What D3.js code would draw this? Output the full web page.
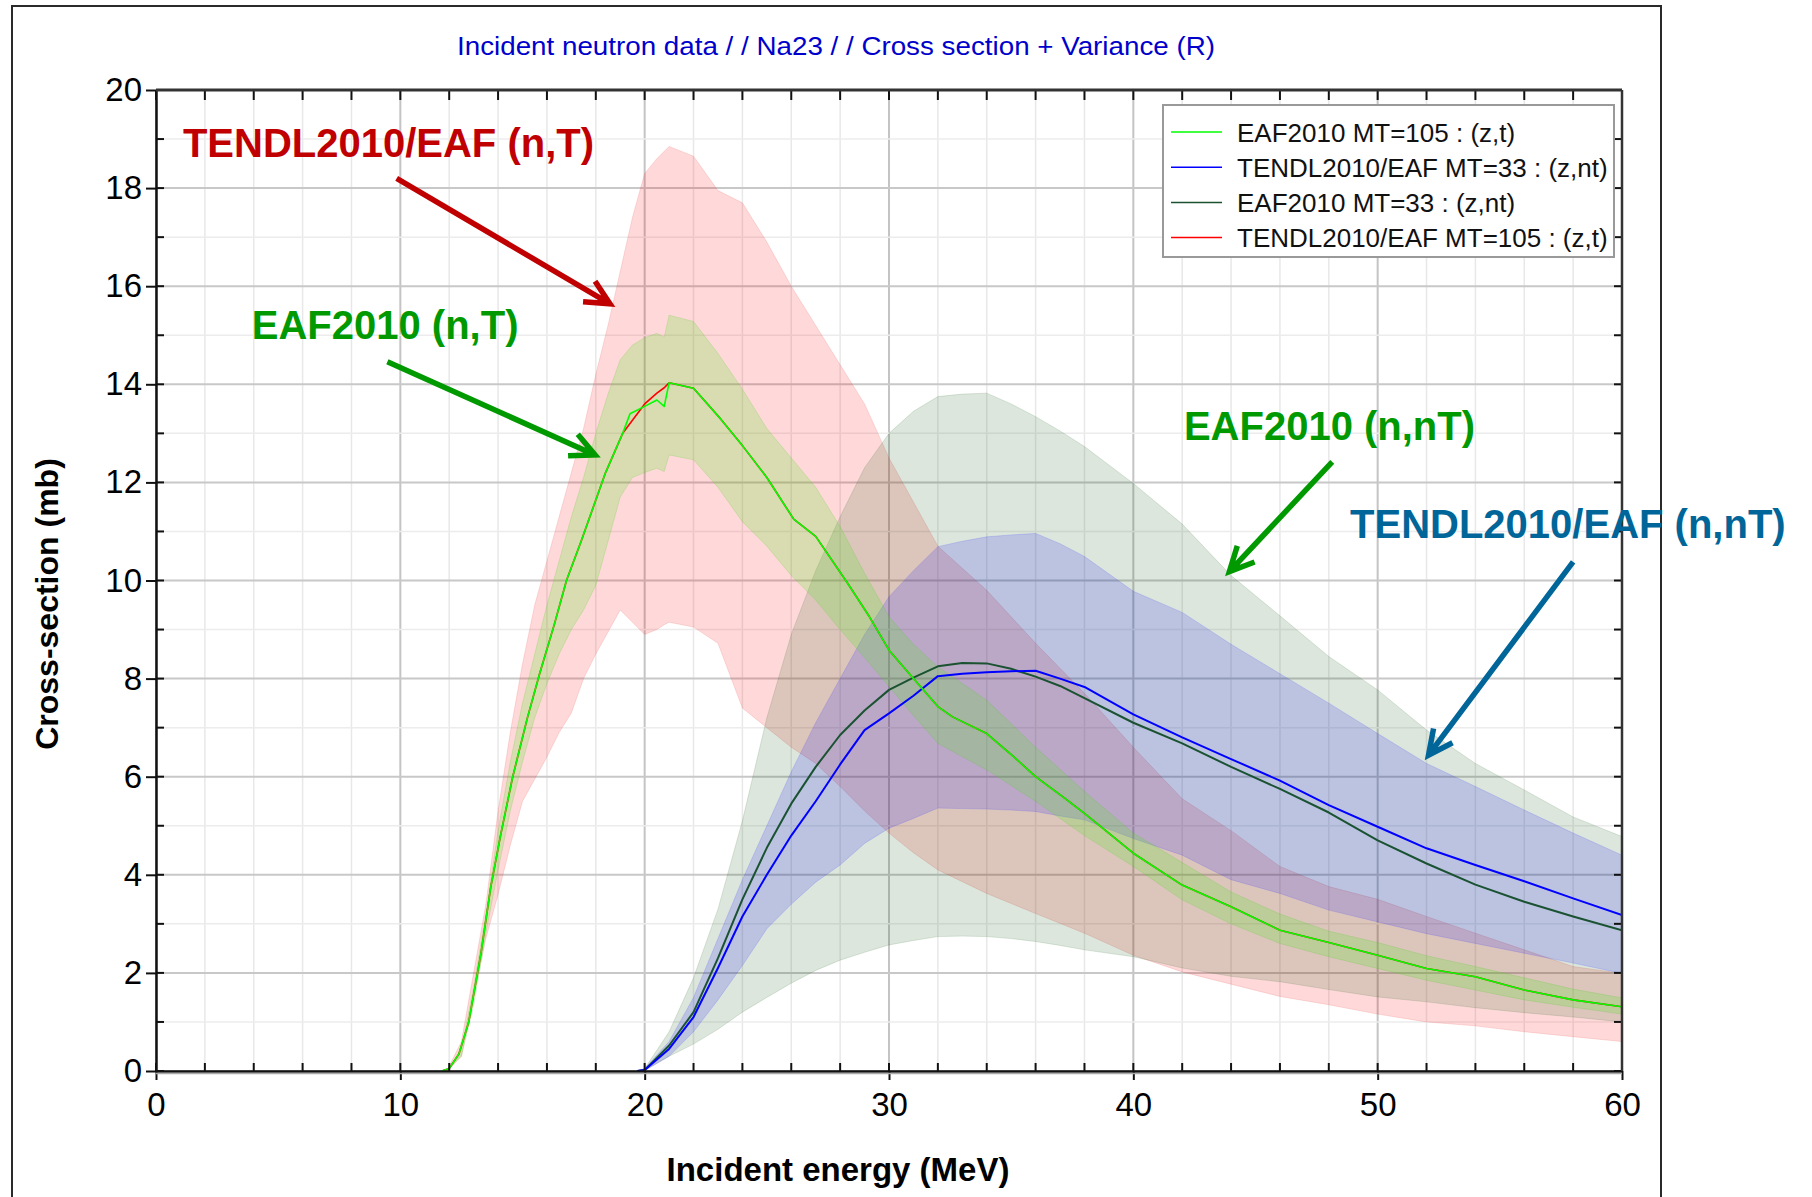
<!DOCTYPE html>
<html>
<head>
<meta charset="utf-8">
<script src="https://cdn.jsdelivr.net/npm/d3@7"></script>
<style>
  body { margin: 0; background: #fff; }
  svg text { font-family: "Liberation Sans", Arial, sans-serif; }
</style>
</head>
<body>
<div id="chart"></div>
<script>
// ---- values ----
var xTicks = [0, 10, 20, 30, 40, 50, 60];
var yTicks = [0, 2, 4, 6, 8, 10, 12, 14, 16, 18, 20];

// (n,T) MT=105 central curves
var eT = [11.7, 12.0, 12.4, 12.8, 13.3, 13.7, 14.1, 14.6, 15.2, 15.7, 16.3, 16.8, 17.4, 18.4, 19.1, 19.4, 20.0, 20.5, 20.8, 21.0,
          22.0, 23.1, 24.0, 25.0, 26.1, 27.0, 28.3, 29.2, 30.0, 31.0, 32.0, 32.6, 34.0, 35.1, 36.0, 37.2, 38.0, 40.0, 42.0, 44.0,
          46.0, 48.0, 50.0, 52.0, 54.0, 56.0, 58.0, 60.0];
var eaf105 = [0, 0.05, 0.35, 1.0, 2.4, 3.75, 4.8, 6.0, 7.2, 8.1, 9.1, 10.0, 10.8, 12.2, 13.0, 13.4, 13.55, 13.68, 13.55, 14.03,
              13.92, 13.3, 12.75, 12.1, 11.25, 10.9, 9.95, 9.26, 8.58, 8.0, 7.43, 7.22, 6.88, 6.41, 6.0, 5.56, 5.25, 4.44, 3.79, 3.35,
              2.87, 2.62, 2.36, 2.09, 1.92, 1.65, 1.45, 1.31];
var tendl105 = [0, 0.05, 0.35, 1.0, 2.4, 3.75, 4.8, 6.0, 7.2, 8.1, 9.1, 10.0, 10.8, 12.2, 13.0, 13.2, 13.6, 13.82, 13.93, 14.03,
                13.92, 13.3, 12.75, 12.1, 11.25, 10.9, 9.95, 9.26, 8.58, 8.0, 7.43, 7.22, 6.88, 6.41, 6.0, 5.56, 5.25, 4.44, 3.79, 3.35,
                2.87, 2.62, 2.36, 2.09, 1.92, 1.65, 1.45, 1.31];

// (n,T) variance bands
var eBandT = [11.9, 12.5, 13, 13.5, 14, 14.5, 15, 15.5, 16, 16.5, 17, 17.5, 18, 18.5, 19, 19.5, 20, 20.5, 20.8, 21,
              22, 23, 24, 25, 26, 27, 28, 29, 30, 31, 32, 34, 36, 38, 40, 42, 44, 46, 48, 50, 52, 54, 56, 58, 60];
var tendl105Hi = [0, 0.6, 2.0, 3.4, 5.3, 6.9, 8.3, 9.5, 10.4, 11.3, 12.2, 13.1, 14.2, 15.2, 16.3, 17.4, 18.3, 18.6, 18.75, 18.85,
                  18.65, 17.95, 17.7, 16.9, 16.0, 15.2, 14.4, 13.6, 12.5, 11.6, 10.7, 9.8, 8.72, 7.7, 6.6, 5.55, 4.9, 4.17, 3.76, 3.5,
                  3.15, 2.81, 2.47, 2.13, 1.99];
var tendl105Lo = [0, 0.3, 1.5, 2.7, 3.6, 4.6, 5.5, 5.95, 6.4, 6.9, 7.3, 8.0, 8.5, 8.95, 9.4, 9.15, 8.9, 9.0, 9.1, 9.15,
                  9.05, 8.72, 7.4, 7.0, 6.6, 6.27, 5.8, 5.3, 4.85, 4.45, 4.1, 3.62, 3.21, 2.81, 2.36, 2.02, 1.77, 1.52, 1.35, 1.16,
                  1.0, 0.92, 0.8, 0.7, 0.6];
var eaf105Hi = [0, 0.45, 1.7, 3.2, 4.9, 6.3, 7.5, 8.5, 9.5, 10.4, 11.3, 12.1, 13.0, 13.8, 14.5, 14.8, 14.95, 15.04, 14.96, 15.41,
                15.28, 14.63, 13.9, 13.1, 12.5, 11.9, 11.1, 10.15, 9.26, 8.7, 8.24, 7.56, 6.6, 5.7, 4.85, 4.25, 3.65, 3.2, 2.85, 2.62,
                2.35, 2.13, 1.9, 1.67, 1.49];
var eaf105Lo = [0, 0.3, 1.35, 2.8, 4.1, 5.3, 6.3, 7.2, 7.9, 8.5, 9.0, 9.4, 9.9, 10.8, 11.7, 12.1, 12.2, 12.29, 12.22, 12.56,
                12.46, 11.9, 11.2, 10.7, 10.1, 9.6, 9.0, 8.43, 7.84, 7.25, 6.68, 6.14, 5.5, 4.8, 4.17, 3.49, 3.0, 2.6, 2.33, 2.09,
                1.85, 1.65, 1.45, 1.3, 1.16];

// (n,nT) MT=33 curves and bands
var eNT = [19.7, 20, 21, 22, 23, 24, 25, 26, 27, 28, 29, 30, 31, 32, 33, 34, 35, 36, 37, 38,
           40, 42, 44, 46, 48, 50, 52, 54, 56, 58, 60];
var eaf33 = [0, 0.02, 0.52, 1.2, 2.3, 3.5, 4.55, 5.45, 6.2, 6.85, 7.35, 7.77, 8.02, 8.25, 8.32, 8.31, 8.2, 8.04, 7.85, 7.6,
             7.1, 6.68, 6.2, 5.75, 5.27, 4.7, 4.23, 3.8, 3.45, 3.15, 2.87];
var eaf33Hi = [0, 0.05, 0.8, 1.9, 3.3, 5.1, 7.2, 8.9, 10.2, 11.3, 12.3, 13.0, 13.45, 13.75, 13.8, 13.82, 13.6, 13.34, 13.05, 12.73,
               11.98, 11.15, 10.1, 9.28, 8.45, 7.77, 6.95, 6.27, 5.73, 5.18, 4.78];
var eaf33Lo = [0, 0.01, 0.3, 0.55, 0.85, 1.2, 1.5, 1.79, 2.05, 2.26, 2.42, 2.57, 2.66, 2.74, 2.75, 2.74, 2.7, 2.64, 2.56, 2.47,
               2.33, 2.1, 1.93, 1.82, 1.66, 1.51, 1.41, 1.29, 1.19, 1.1, 1.0];
var tendl33 = [0, 0.02, 0.45, 1.1, 2.1, 3.15, 4.0, 4.8, 5.5, 6.25, 6.95, 7.29, 7.65, 8.05, 8.1, 8.13, 8.15, 8.16, 8.0, 7.83,
               7.27, 6.8, 6.36, 5.92, 5.42, 4.98, 4.54, 4.2, 3.87, 3.52, 3.18];
var tendl33Hi = [0, 0.05, 0.6, 1.5, 2.7, 3.9, 5.0, 6.1, 7.1, 8.0, 8.9, 9.67, 10.2, 10.69, 10.8, 10.89, 10.93, 10.96, 10.75, 10.49,
                 9.78, 9.35, 8.7, 8.1, 7.5, 6.88, 6.27, 5.8, 5.32, 4.85, 4.4];
var tendl33Lo = [0, 0.01, 0.3, 0.8, 1.45, 2.15, 2.9, 3.4, 3.85, 4.2, 4.64, 4.95, 5.15, 5.36, 5.35, 5.34, 5.32, 5.29, 5.2, 5.12,
                 4.74, 4.4, 3.9, 3.62, 3.28, 3.04, 2.8, 2.6, 2.4, 2.2, 1.99];

var legendNames = ["EAF2010 MT=105 : (z,t)", "TENDL2010/EAF MT=33 : (z,nt)", "EAF2010 MT=33 : (z,nt)", "TENDL2010/EAF MT=105 : (z,t)"];
var legendColors = ["#00ff00", "#0000ff", "#1a5232", "#ff0000"];

// annotations, in data units (MeV, mb)
var noteTexts = ["TENDL2010/EAF (n,T)", "EAF2010 (n,T)", "EAF2010 (n,nT)", "TENDL2010/EAF (n,nT)"];
var noteColors = ["#c00000", "#009900", "#009900", "#006699"];
var noteAt = [[1.1, 18.63], [3.92, 14.92], [42.07, 12.86], [48.87, 10.86]];
var arrowFrom = [[9.85, 18.2], [9.47, 14.46], [48.14, 12.42], [58.0, 10.38]];
var arrowTo = [[18.58, 15.64], [17.97, 12.56], [43.93, 10.18], [52.08, 6.44]];

// ---- layout ----
var WIDTH = 1812, HEIGHT = 1197;
var PLOT = { left: 156, right: 1622, top: 90, bottom: 1071 };

var svg = d3.select("#chart").append("svg")
    .attr("width", WIDTH).attr("height", HEIGHT);

var xScale = d3.scaleLinear().domain([0, 60]).range([PLOT.left, PLOT.right]);
var yScale = d3.scaleLinear().domain([0, 20]).range([PLOT.bottom, PLOT.top]);

// outer frame of the screenshot
svg.append("rect").attr("x", 12).attr("y", 6).attr("width", 1649).attr("height", 1220)
    .attr("fill", "none").attr("stroke", "#2a2a2a").attr("stroke-width", 2);

svg.append("text")
    .attr("x", 836).attr("y", 55)
    .attr("text-anchor", "middle")
    .attr("textLength", 758).attr("lengthAdjust", "spacingAndGlyphs")
    .style("font-size", "25px").style("fill", "#0000cc")
    .text("Incident neutron data / / Na23 / / Cross section + Variance (R)");

// grid
var grid = svg.append("g").attr("class", "grid");
d3.range(0, 61, 2).forEach(function(e) {
  grid.append("line")
      .attr("x1", xScale(e)).attr("x2", xScale(e))
      .attr("y1", PLOT.top).attr("y2", PLOT.bottom)
      .attr("stroke", e % 10 == 0 ? "#c4c4c4" : "#e8e8e8")
      .attr("stroke-width", e % 10 == 0 ? 2 : 1.5);
});
d3.range(0, 21, 1).forEach(function(v) {
  grid.append("line")
      .attr("x1", PLOT.left).attr("x2", PLOT.right)
      .attr("y1", yScale(v)).attr("y2", yScale(v))
      .attr("stroke", v % 2 == 0 ? "#c8c8c8" : "#ececec")
      .attr("stroke-width", v % 2 == 0 ? 2 : 1.5);
});

svg.append("defs").append("clipPath").attr("id", "clip").append("rect")
    .attr("x", PLOT.left).attr("y", PLOT.top)
    .attr("width", PLOT.right - PLOT.left).attr("height", PLOT.bottom - PLOT.top);

var chartBody = svg.append("g").attr("clip-path", "url(#clip)");

function drawBand(xs, lo, hi, fill, edge) {
  var area = d3.area()
      .x(function(i) { return xScale(xs[i]); })
      .y0(function(i) { return yScale(lo[i]); })
      .y1(function(i) { return yScale(hi[i]); });
  chartBody.append("path")
      .attr("d", area(d3.range(xs.length)))
      .attr("fill", fill)
      .attr("stroke", edge).attr("stroke-width", 1);
}

function drawLine(xs, ys, color, width) {
  var lineGen = d3.line()
      .x(function(i) { return xScale(xs[i]); })
      .y(function(i) { return yScale(ys[i]); });
  chartBody.append("path")
      .attr("d", lineGen(d3.range(xs.length)))
      .attr("fill", "none").attr("stroke", color)
      .attr("stroke-width", width).attr("stroke-linejoin", "round");
}

// bands, last legend entry first
drawBand(eBandT, tendl105Lo, tendl105Hi, "rgba(255,0,0,0.15)", "rgba(230,80,80,0.18)");
drawBand(eNT, eaf33Lo, eaf33Hi, "rgba(40,100,40,0.16)", "rgba(40,100,40,0.15)");
drawBand(eNT, tendl33Lo, tendl33Hi, "rgba(0,0,255,0.15)", "rgba(60,60,255,0.18)");
drawBand(eBandT, eaf105Lo, eaf105Hi, "rgba(80,230,30,0.22)", "rgba(80,200,40,0.2)");

drawLine(eT, tendl105, "#ff0000", 1.6);
drawLine(eNT, eaf33, "#1a5232", 2);
drawLine(eNT, tendl33, "#0000ff", 2);
drawLine(eT, eaf105, "#00ff00", 1.6);

// axes
var axes = svg.append("g").attr("class", "axes");

var yAxis = d3.axisLeft(yScale).tickValues(yTicks).tickSizeInner(10).tickSizeOuter(0).tickPadding(4);
var gY = axes.append("g").attr("transform", "translate(" + PLOT.left + ",0)").call(yAxis);

var xAxis = d3.axisBottom(xScale).tickValues(xTicks).tickSizeInner(9).tickSizeOuter(0).tickPadding(13);
var gX = axes.append("g").attr("transform", "translate(0," + PLOT.bottom + ")").call(xAxis);

[gX, gY].forEach(function(g) {
  g.select(".domain").attr("stroke", "#111").attr("stroke-width", 2.5);
  g.selectAll(".tick line").attr("stroke", "#111").attr("stroke-width", 2);
  g.selectAll(".tick text").style("font-size", "33px").style("fill", "#000")
      .style("font-family", "'Liberation Sans', Arial, sans-serif");
});

// inner ticks on all four sides
d3.range(0, 61, 2).forEach(function(e) {
  axes.append("line").attr("x1", xScale(e)).attr("x2", xScale(e))
      .attr("y1", PLOT.bottom).attr("y2", PLOT.bottom - 8)
      .attr("stroke", "#111").attr("stroke-width", 2);
  axes.append("line").attr("x1", xScale(e)).attr("x2", xScale(e))
      .attr("y1", PLOT.top).attr("y2", PLOT.top + 10)
      .attr("stroke", "#111").attr("stroke-width", 2);
});
d3.range(0, 21, 1).forEach(function(v) {
  axes.append("line").attr("x1", PLOT.left).attr("x2", PLOT.left + 8)
      .attr("y1", yScale(v)).attr("y2", yScale(v))
      .attr("stroke", "#111").attr("stroke-width", 2);
  axes.append("line").attr("x1", PLOT.right).attr("x2", PLOT.right - 8)
      .attr("y1", yScale(v)).attr("y2", yScale(v))
      .attr("stroke", "#111").attr("stroke-width", 2);
});
axes.append("line").attr("x1", PLOT.left).attr("x2", PLOT.right)
    .attr("y1", PLOT.top).attr("y2", PLOT.top)
    .attr("stroke", "#333").attr("stroke-width", 3);
axes.append("line").attr("x1", PLOT.right).attr("x2", PLOT.right)
    .attr("y1", PLOT.top).attr("y2", PLOT.bottom)
    .attr("stroke", "#333").attr("stroke-width", 2.5);
axes.append("line").attr("x1", PLOT.left).attr("x2", PLOT.right)
    .attr("y1", PLOT.bottom + 2.5).attr("y2", PLOT.bottom + 2.5)
    .attr("stroke", "#aaa").attr("stroke-width", 1.5);

svg.append("text")
    .attr("x", 838).attr("y", 1181)
    .attr("text-anchor", "middle")
    .style("font-size", "33px").style("font-weight", "bold")
    .text("Incident energy (MeV)");

svg.append("text")
    .attr("transform", "translate(58,604) rotate(-90)")
    .attr("text-anchor", "middle")
    .style("font-size", "32px").style("font-weight", "bold")
    .text("Cross-section (mb)");

// legend box
var legend = svg.append("g").attr("class", "legend");
legend.append("rect")
    .attr("x", 1163).attr("y", 105).attr("width", 451).attr("height", 152)
    .attr("fill", "#fff").attr("stroke", "#999").attr("stroke-width", 2);
legendNames.forEach(function(name, i) {
  var ry = 132 + i * 35.2;
  legend.append("line").attr("x1", 1171).attr("x2", 1222)
      .attr("y1", ry).attr("y2", ry)
      .attr("stroke", legendColors[i]).attr("stroke-width", 1.5);
  legend.append("text").attr("x", 1237).attr("y", ry + 9.5)
      .style("font-size", "26px").style("fill", "#111")
      .text(name);
});

// annotation labels and arrows
var notes = svg.append("g").attr("class", "notes");
noteTexts.forEach(function(t, i) {
  notes.append("text")
      .attr("x", xScale(noteAt[i][0])).attr("y", yScale(noteAt[i][1]))
      .style("font-size", "40px").style("font-weight", "bold")
      .style("fill", noteColors[i])
      .text(t);

  var x0 = xScale(arrowFrom[i][0]), y0 = yScale(arrowFrom[i][1]);
  var x1 = xScale(arrowTo[i][0]), y1 = yScale(arrowTo[i][1]);
  var ang = Math.atan2(y1 - y0, x1 - x0);
  var headLen = 27, spread = 26 * Math.PI / 180;
  var d = "M" + x0 + "," + y0 + "L" + x1 + "," + y1
        + "M" + (x1 - headLen * Math.cos(ang - spread)) + "," + (y1 - headLen * Math.sin(ang - spread))
        + "L" + x1 + "," + y1
        + "L" + (x1 - headLen * Math.cos(ang + spread)) + "," + (y1 - headLen * Math.sin(ang + spread));
  notes.append("path").attr("d", d)
      .attr("fill", "none").attr("stroke", noteColors[i])
      .attr("stroke-width", 5.5).attr("stroke-linejoin", "miter");
});
</script>
</body>
</html>
